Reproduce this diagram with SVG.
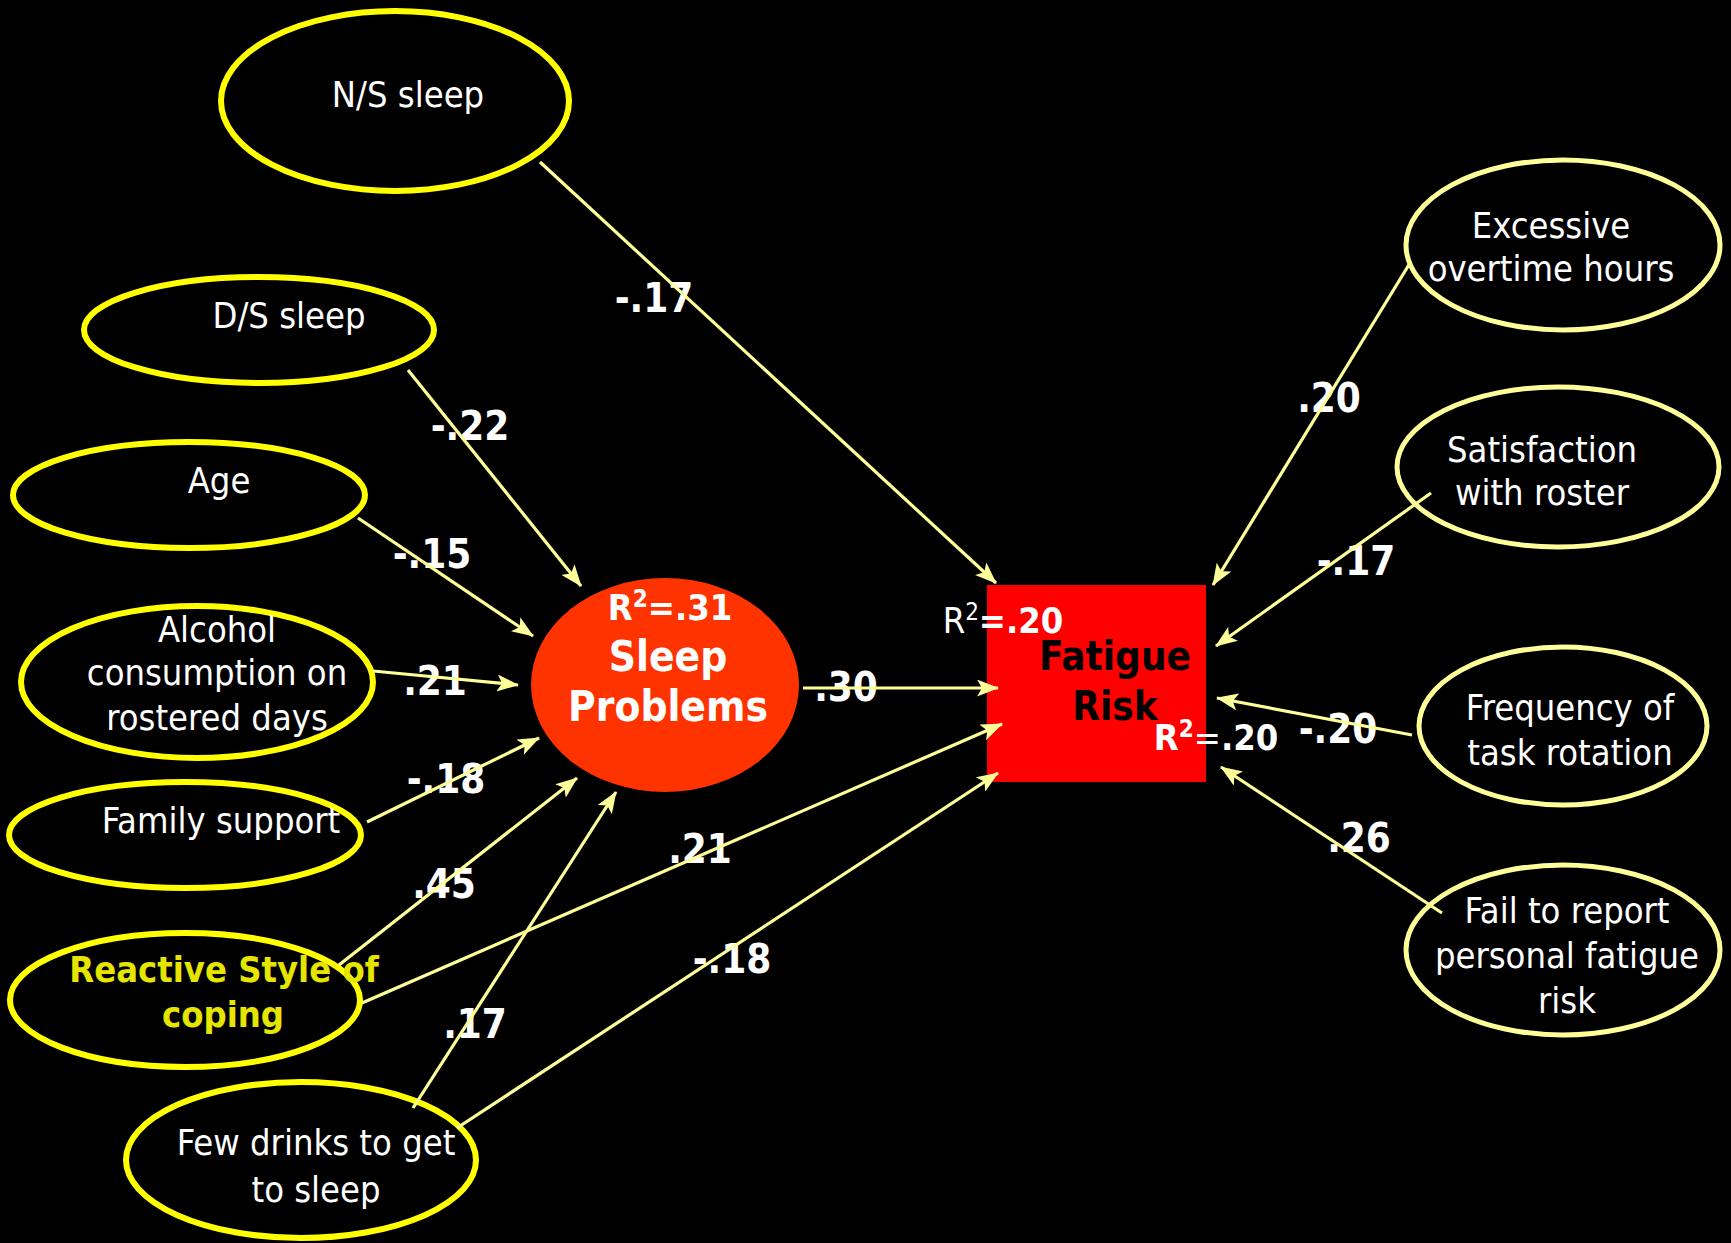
<svg xmlns="http://www.w3.org/2000/svg" width="1731" height="1243" viewBox="0 0 1731 1243">
<defs>
<style>
.bg{fill:#000}
.eL{fill:none;stroke:#ffff00;stroke-width:6}
.eR{fill:none;stroke:#ffff99;stroke-width:5}
.t{font-family:"DejaVu Sans Condensed","DejaVu Sans",sans-serif;font-size:36px;fill:#fff;text-anchor:middle}
.ty{font-family:"DejaVu Sans Condensed","DejaVu Sans",sans-serif;font-size:36px;font-weight:bold;fill:#e5e500;text-anchor:middle}
.lb{font-family:"DejaVu Sans Condensed","DejaVu Sans",sans-serif;font-size:40px;font-weight:bold;fill:#fff;text-anchor:middle}
.big{font-family:"DejaVu Sans Condensed","DejaVu Sans",sans-serif;font-weight:bold;text-anchor:middle}
.sup{font-size:24px}
.c{stroke:#ffff99;stroke-width:3.2;fill:none;marker-end:url(#ah)}
</style>
<marker id="ah" markerUnits="userSpaceOnUse" markerWidth="22" markerHeight="17" refX="21" refY="8.5" orient="auto">
<path d="M0,0 L22,8.5 L0,17 L5,8.5 z" fill="#ffff99"/>
</marker>
</defs>
<rect class="bg" x="0" y="0" width="1731" height="1243"/>

<g id="nodes">
<g id="ns-sleep"><ellipse class="eL" cx="395" cy="101" rx="174" ry="90"/><text class="t" x="408" y="107">N/S sleep</text></g>
<g id="ds-sleep"><ellipse class="eL" cx="259" cy="330" rx="175" ry="53"/><text class="t" x="289" y="328">D/S sleep</text></g>
<g id="age"><ellipse class="eL" cx="189" cy="495" rx="176" ry="53"/><text class="t" x="219" y="493">Age</text></g>
<g id="alcohol"><ellipse class="eL" cx="197" cy="682" rx="176" ry="76"/><text class="t" x="217" y="642">Alcohol</text><text class="t" x="217" y="685">consumption on</text><text class="t" x="217" y="730">rostered days</text></g>
<g id="family"><ellipse class="eL" cx="185" cy="835" rx="176" ry="53"/><text class="t" x="221" y="833">Family support</text></g>
<g id="reactive"><ellipse class="eL" cx="185" cy="1000" rx="175" ry="67"/><text class="ty" x="224" y="982">Reactive Style of</text><text class="ty" x="223" y="1027">coping</text></g>
<g id="few-drinks"><ellipse class="eL" cx="301" cy="1160" rx="175" ry="78"/><text class="t" x="316" y="1155">Few drinks to get</text><text class="t" x="316" y="1202">to sleep</text></g>
<g id="excessive"><ellipse class="eR" cx="1563" cy="245" rx="157" ry="85"/><text class="t" x="1551" y="238">Excessive</text><text class="t" x="1551" y="281">overtime hours</text></g>
<g id="satisfaction"><ellipse class="eR" cx="1558" cy="467" rx="161" ry="80"/><text class="t" x="1542" y="462">Satisfaction</text><text class="t" x="1542" y="505">with roster</text></g>
<g id="frequency"><ellipse class="eR" cx="1563" cy="726" rx="144" ry="79"/><text class="t" x="1570" y="720">Frequency of</text><text class="t" x="1570" y="765">task rotation</text></g>
<g id="fail-report"><ellipse class="eR" cx="1563" cy="950" rx="157" ry="85"/><text class="t" x="1567" y="923">Fail to report</text><text class="t" x="1567" y="968">personal fatigue</text><text class="t" x="1567" y="1013">risk</text></g>
<g id="sleep-problems"><ellipse cx="665" cy="685" rx="134" ry="107" fill="#ff3300"/>
<text class="big" x="670" y="620" font-size="36" fill="#fff">R<tspan class="sup" dy="-13">2</tspan><tspan dy="13">=.31</tspan></text>
<text class="big" x="668" y="671" font-size="42" fill="#fff">Sleep</text>
<text class="big" x="668" y="721" font-size="42" fill="#fff">Problems</text></g>
<g id="fatigue-risk"><rect x="987" y="585" width="219" height="197" fill="#ff0000"/>
<text class="big" x="1003" y="633" font-size="36" fill="#fff"><tspan font-weight="normal">R</tspan><tspan class="sup" font-weight="normal" dy="-13">2</tspan><tspan dy="13">=.20</tspan></text>
<text class="big" x="1115" y="670" font-size="40" fill="#000">Fatigue</text>
<text class="big" x="1115" y="720" font-size="40" fill="#000">Risk</text>
<text class="big" x="1216" y="750" font-size="36" fill="#fff">R<tspan class="sup" dy="-13">2</tspan><tspan font-weight="normal" dy="13">=</tspan>.20</text></g>
</g>

<g id="edge-labels">
<text class="lb" x="654" y="312">-.17</text>
<text class="lb" x="470" y="440">-.22</text>
<text class="lb" x="432" y="568">-.15</text>
<text class="lb" x="435" y="695">.21</text>
<text class="lb" x="446" y="793">-.18</text>
<text class="lb" x="444" y="898">.45</text>
<text class="lb" x="475" y="1038">.17</text>
<text class="lb" x="700" y="863">.21</text>
<text class="lb" x="732" y="973">-.18</text>
<text class="lb" x="846" y="701">.30</text>
<text class="lb" x="1329" y="412">.20</text>
<text class="lb" x="1356" y="575">-.17</text>
<text class="lb" x="1338" y="743">-.20</text>
<text class="lb" x="1359" y="852">.26</text>
</g>

<g id="connectors">
<line class="c" x1="540" y1="162" x2="996" y2="583"/>
<line class="c" x1="408" y1="370" x2="581" y2="586"/>
<line class="c" x1="358" y1="518" x2="533" y2="636"/>
<line class="c" x1="373" y1="671" x2="518" y2="685"/>
<line class="c" x1="367" y1="822" x2="539" y2="738"/>
<line class="c" x1="339" y1="965" x2="577" y2="778"/>
<line class="c" x1="413" y1="1108" x2="616" y2="792"/>
<line class="c" x1="362" y1="1003" x2="1002" y2="724"/>
<line class="c" x1="457" y1="1128" x2="998" y2="773"/>
<line class="c" x1="803" y1="688" x2="998" y2="688"/>
<line class="c" x1="1410" y1="263" x2="1213" y2="585"/>
<line class="c" x1="1431" y1="493" x2="1216" y2="646"/>
<line class="c" x1="1412" y1="735" x2="1217" y2="698"/>
<line class="c" x1="1442" y1="913" x2="1221" y2="767"/>
</g>
</svg>
